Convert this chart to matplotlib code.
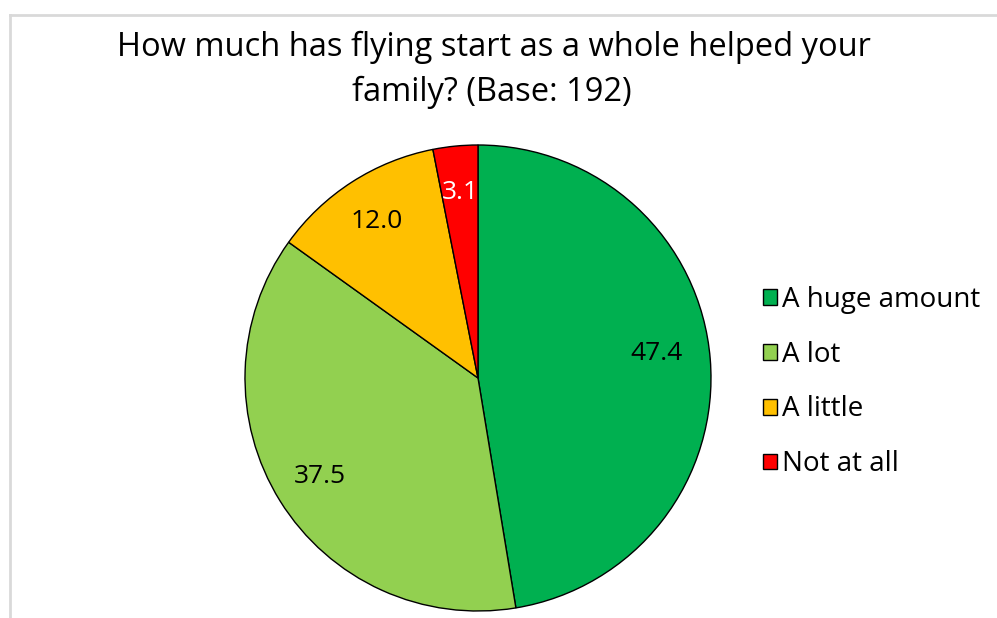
import matplotlib.pyplot as plt
from matplotlib.lines import Line2D

plt.rcParams['font.family'] = ['Open Sans', 'DejaVu Sans']

labels = ['A huge amount', 'A lot', 'A little', 'Not at all']
values = [47.4, 37.5, 12.0, 3.1]
colors = ['#00B050', '#92D050', '#FFC000', '#FF0000']
label_colors = ['black', 'black', 'black', 'white']
title_lines = ['How much has flying start as a whole helped your', 'family? (Base: 192)']

fig = plt.figure(figsize=(9.97, 6.18), dpi=100)

# chart border (cropped: only left and top visible)
fig.add_artist(Line2D([10 / 997, 10 / 997], [0, 1 - 15 / 618],
                      color='#d9d9d9', lw=2))
fig.add_artist(Line2D([10 / 997, 1], [1 - 15 / 618, 1 - 15 / 618],
                      color='#d9d9d9', lw=2))

ax = fig.add_axes([245 / 997, 7 / 618, 466 / 997, 466 / 618])
wedges, texts, autotexts = ax.pie(
    values, colors=colors, startangle=90, counterclock=False,
    autopct='%.1f', pctdistance=0.8,
    wedgeprops=dict(edgecolor='black', linewidth=1),
    textprops=dict(fontsize=19))
for t, c in zip(autotexts, label_colors):
    t.set_color(c)
# Excel nudges the big slice label a bit higher
x, y = autotexts[0].get_position()
autotexts[0].set_position((x - 0.03, y + 0.04))
ax.set_xlim(-1, 1)
ax.set_ylim(-1, 1)
ax.set_aspect('equal')

fig.text(0.495, 1 - 47 / 618, title_lines[0], ha='center', va='center', fontsize=23.5)
fig.text(0.493, 1 - 92 / 618, title_lines[1], ha='center', va='center', fontsize=23.5)

fig.legend(wedges, labels, loc='center left', bbox_to_anchor=(738 / 997, 1 - 382 / 618),
           frameon=False, fontsize=20, handlelength=0.5, handleheight=0.5,
           handletextpad=0.2, labelspacing=0.97)

fig.savefig('out.png', dpi=100)
